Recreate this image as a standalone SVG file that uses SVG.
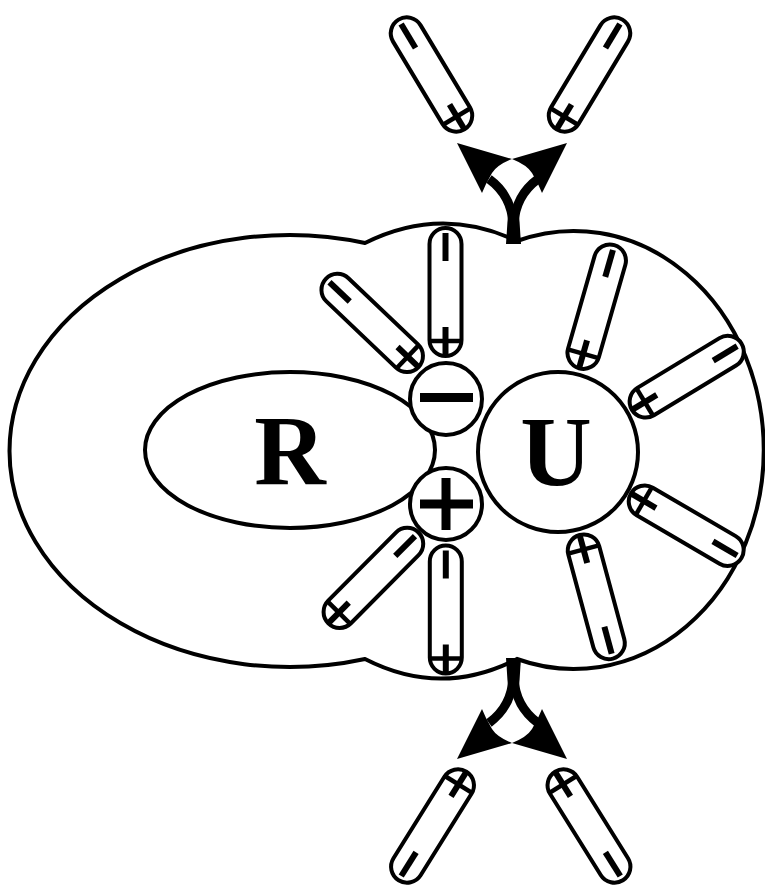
<svg xmlns="http://www.w3.org/2000/svg" xmlns:xlink="http://www.w3.org/1999/xlink" width="765" height="886" viewBox="0 0 765 886">
<style>
.ln{fill:#fff;stroke:#000;stroke-width:4}
.bar{stroke:#000;stroke-linecap:butt;fill:none}
.txt{font-family:"Liberation Serif","Times New Roman",serif;font-weight:bold;font-size:99px;fill:#000;text-anchor:middle}
.ah{fill:#000;stroke:none}
.sh{fill:none;stroke:#000;stroke-width:9}
</style>
<defs>
<g id="cap">
<rect class="ln" x="-64" y="-16" width="128" height="32" rx="16" ry="16"/>
<line class="bar" x1="-59" y1="0" x2="-31" y2="0" stroke-width="6"/>
<line class="bar" x1="35" y1="0" x2="63" y2="0" stroke-width="6"/>
<line class="bar" x1="49" y1="-16" x2="49" y2="16" stroke-width="4.5"/>
</g>
</defs>
<rect width="765" height="886" fill="#fff"/>
<g id="outline">
<path class="ln" d="M365,243 A280,216 0 1 0 365,659 Q441,698 517,659 A190,219 0 1 0 517,241 Q441,205 365,243 Z"/>
</g>
<g id="R">
<ellipse class="ln" cx="290" cy="450" rx="145" ry="78"/>
<text class="txt" x="290" y="484">R</text>
</g>
<g id="connectors">
<g id="arrow-top">
<path class="ah" d="M506,244 L521,244 L519,214 L508,214 Z"/>
<path class="sh" d="M513,224 C512,204 504,190 489,179"/>
<path class="sh" d="M514,224 C515,204 523,190 538,179"/>
<path class="ah" d="M457,143 L512,159 Q497,165 492,173 L486,184 L482,193 Z"/>
<path class="ah" d="M567,143 L512,159 Q527,165 532,173 L538,184 L542,193 Z"/>
</g>
<g id="arrow-bottom">
<path class="ah" d="M506,658 L521,658 L519,688 L508,688 Z"/>
<path class="sh" d="M513,678 C512,698 504,712 489,723"/>
<path class="sh" d="M514,678 C515,698 523,712 538,723"/>
<path class="ah" d="M457,759 L512,743 Q497,737 492,729 L486,718 L482,709 Z"/>
<path class="ah" d="M567,759 L512,743 Q527,737 532,729 L538,718 L542,709 Z"/>
</g>
</g>
<g id="capsule-A"><use xlink:href="#cap" transform="translate(431.5,74.5) rotate(59)"/></g>
<g id="capsule-B"><use xlink:href="#cap" transform="translate(589.5,74.5) rotate(121)"/></g>
<g id="capsule-C"><use xlink:href="#cap" transform="translate(432.5,826) rotate(-58)"/></g>
<g id="capsule-D"><use xlink:href="#cap" transform="translate(589,826) rotate(-122)"/></g>
<g id="capsule-E"><use xlink:href="#cap" transform="translate(445.5,292) rotate(90)"/></g>
<g id="capsule-F"><use xlink:href="#cap" transform="translate(372.2,322.9) rotate(43.6)"/></g>
<g id="capsule-G"><use xlink:href="#cap" transform="translate(373.4,577.9) rotate(134.8)"/></g>
<g id="capsule-H"><use xlink:href="#cap" transform="translate(445.8,609.5) rotate(90)"/></g>
<g id="capsule-I1"><use xlink:href="#cap" transform="translate(596.7,306.7) rotate(106)"/></g>
<g id="capsule-I2"><use xlink:href="#cap" transform="translate(686.7,376.7) rotate(148.8)"/></g>
<g id="capsule-I3"><use xlink:href="#cap" transform="translate(686.2,525.7) rotate(210.3)"/></g>
<g id="capsule-I4"><use xlink:href="#cap" transform="translate(596.3,596.8) rotate(-105.1)"/></g>
<g id="U">
<circle class="ln" cx="558" cy="452" r="80"/>
<text class="txt" x="556" y="485">U</text>
</g>
<g id="minus-pole">
<circle class="ln" cx="446" cy="399" r="36"/>
<rect x="420" y="393" width="53" height="9" fill="#000"/>
</g>
<g id="plus-pole">
<circle class="ln" cx="446" cy="504" r="36"/>
<rect x="420" y="499.5" width="53" height="9" fill="#000"/>
<rect x="441.5" y="478" width="9" height="52" fill="#000"/>
</g>
</svg>
